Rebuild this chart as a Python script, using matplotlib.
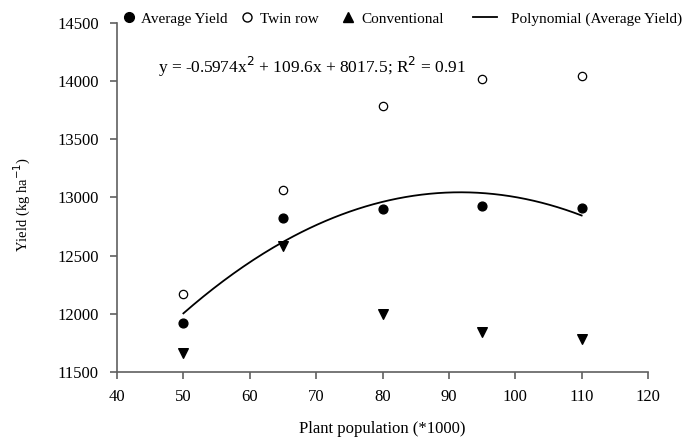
import numpy as np
import matplotlib.pyplot as plt
from matplotlib.lines import Line2D

plt.rcParams['font.family'] = ['Liberation Serif', 'DejaVu Serif']

population = [50, 65, 80, 95, 110]
avg_yield = [11920, 12820, 12900, 12930, 12910]
twin_row = [12170, 13060, 13790, 14020, 14040]
conventional = [11660, 12580, 12000, 11840, 11780]
poly_coef = [-0.5974, 109.6, 8017.5]

fig = plt.figure(figsize=(6.86, 4.38), dpi=100)
ax = fig.add_axes([0.1706, 0.1507, 0.774, 0.797])

xs = np.linspace(50, 110, 200)
ax.plot(xs, np.polyval(poly_coef, xs), color='black', lw=1.3)
ax.scatter(population, avg_yield, marker='o', color='black', s=40, zorder=3)
ax.scatter(population, twin_row, marker='o', facecolor='white', edgecolor='black', s=36, lw=0.9, zorder=3)
ax.scatter(population, conventional, marker='v', color='black', s=48, zorder=3)

ax.set_xlim(40, 120)
ax.set_ylim(11500, 14500)
ax.set_xticks(range(40, 121, 10))
ax.set_yticks(range(11500, 14501, 500))
for s in ['top', 'right']:
    ax.spines[s].set_visible(False)
for s in ['left', 'bottom']:
    ax.spines[s].set_color('#606060')
    ax.spines[s].set_linewidth(1.2)
ax.tick_params(direction='out', length=5, color='#606060', width=1.2, labelsize=12)
ax.tick_params(axis='y', pad=8)
ax.tick_params(axis='x', pad=7)

ax.set_xlabel('Plant population (*1000)', fontsize=12, va='center')
ax.xaxis.set_label_coords(0.5, -0.163)
ax.set_ylabel('Yield (kg ha$^{-1}$)', fontsize=10.5, va='center')
ax.yaxis.set_label_coords(-0.179, 0.48)

ax.text(0.077, 0.874, 'y = -0.5974x$^2$ + 109.6x + 8017.5; R$^2$ = 0.91',
        transform=ax.transAxes, fontsize=12.5, va='center')

# legend entries placed one by one to follow the uneven spacing of the original
entries = [
    (Line2D([], [], marker='o', color='black', ls='none', markersize=7), 'Average Yield', 121, 1.0, 0.28),
    (Line2D([], [], marker='o', mfc='white', mec='black', ls='none', markersize=6.5), 'Twin row', 239, 1.0, 0.4),
    (Line2D([], [], marker='^', color='black', ls='none', markersize=6.5), 'Conventional', 340, 1.0, 0.4),
    (Line2D([], [], color='black', lw=1.3), 'Polynomial (Average Yield)', 473, 1.57, 0.95),
]
for handle, label, xpix, hlen, hpad in entries:
    fig.legend([handle], [label], loc='center left', bbox_to_anchor=(xpix / 686, 0.957),
               frameon=False, fontsize=11, handlelength=hlen, handletextpad=hpad,
               borderaxespad=0, borderpad=0)

fig.savefig('out.png', dpi=100)
